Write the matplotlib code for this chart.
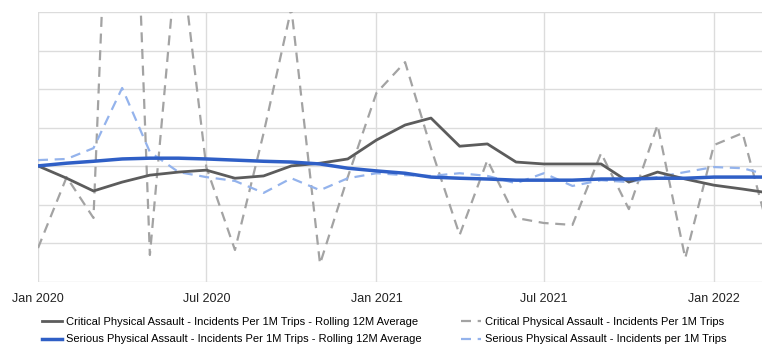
import pandas as pd
import matplotlib.pyplot as plt
import matplotlib.dates as mdates

plt.rcParams['font.family'] = ['Liberation Sans', 'DejaVu Sans']

# monthly points, Jan 2020 - Mar 2022
months = pd.date_range('2020-01-01', periods=27, freq='MS')

critical_rolling = [3.01, 2.69, 2.36, 2.59, 2.77, 2.85, 2.90, 2.69, 2.75, 3.01,
                    3.08, 3.19, 3.68, 4.07, 4.25, 3.52, 3.58, 3.11, 3.06, 3.06,
                    3.06, 2.59, 2.85, 2.67, 2.51, 2.41, 2.31]
serious_rolling = [3.01, 3.08, 3.13, 3.19, 3.21, 3.21, 3.19, 3.16, 3.13, 3.11,
                   3.06, 2.95, 2.88, 2.82, 2.72, 2.69, 2.67, 2.64, 2.64, 2.64,
                   2.67, 2.67, 2.69, 2.69, 2.72, 2.72, 2.72]
critical_monthly = [0.88, 2.72, 1.66, 20.0, 0.70, 9.00, 2.98, 0.83, 3.86, 7.10,
                    0.47, 2.72, 4.90, 5.70, 3.47, 1.22, 3.16, 1.66, 1.53, 1.48,
                    3.34, 1.89, 4.07, 0.62, 3.55, 3.86, 1.35]
serious_monthly = [3.16, 3.19, 3.47, 5.03, 3.37, 2.85, 2.72, 2.62, 2.31, 2.69,
                   2.38, 2.69, 2.82, 2.77, 2.75, 2.82, 2.75, 2.56, 2.82, 2.49,
                   2.64, 2.59, 2.72, 2.85, 2.98, 2.95, 2.77]

labels = ['Critical Physical Assault - Incidents Per 1M Trips - Rolling 12M Average',
          'Serious Physical Assault - Incidents Per 1M Trips - Rolling 12M Average',
          'Critical Physical Assault - Incidents Per 1M Trips',
          'Serious Physical Assault - Incidents per 1M Trips']

fig = plt.figure(figsize=(7.62, 3.48), dpi=100)
ax = fig.add_axes([38 / 762, 66 / 348, 724 / 762, 270 / 348])

l3, = ax.plot(months, critical_monthly, color='#a3a3a3', lw=1.6, dashes=(4.5, 3), zorder=2)
l4, = ax.plot(months, serious_monthly, color='#94b3ec', lw=1.6, dashes=(4.5, 3), zorder=2)
l1, = ax.plot(months, critical_rolling, color='#5c5c5c', lw=2, zorder=3)
l2, = ax.plot(months, serious_rolling, color='#2f5fc6', lw=2.5, zorder=4)

ax.set_xlim(pd.Timestamp('2020-01-01'), pd.Timestamp('2022-02-22'))
ax.set_ylim(0, 7)
ax.set_yticks(range(0, 8))
ax.set_yticklabels([])
ax.xaxis.set_major_locator(mdates.MonthLocator(bymonth=[1, 7]))
ax.xaxis.set_major_formatter(mdates.DateFormatter('%b %Y'))
ax.tick_params(length=0, labelsize=9, colors='#222222', pad=8)
ax.grid(True, color='#dcdcdc', lw=1)
for s in ax.spines.values():
    s.set_visible(False)

fig.legend([l1, l2, l3, l4], labels, ncol=2, loc='lower left',
           bbox_to_anchor=(36 / 762, -2 / 348), frameon=False, fontsize=8,
           borderpad=0, handlelength=1.8, handletextpad=0.4,
           columnspacing=3.5, labelspacing=0.65)

fig.savefig('out.png', dpi=100)
